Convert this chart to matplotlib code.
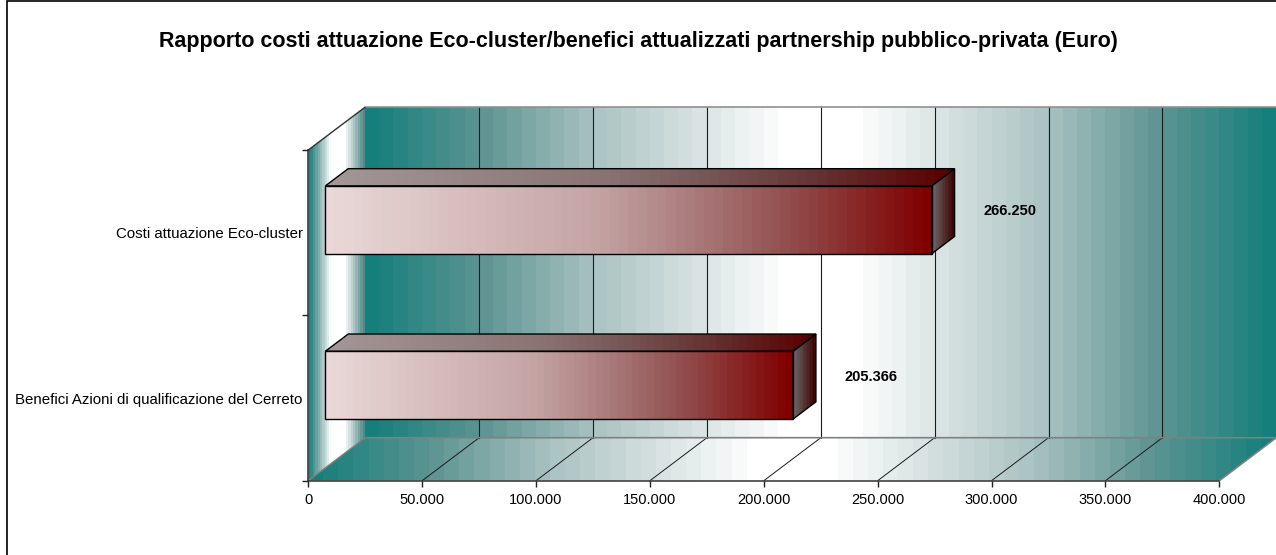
import matplotlib.pyplot as plt
import numpy as np
from matplotlib.colors import LinearSegmentedColormap, to_rgb
from matplotlib.patches import Polygon, Rectangle
from matplotlib.ticker import FuncFormatter

# data (Euro)
categories = ["Benefici Azioni di qualificazione del Cerreto", "Costi attuazione Eco-cluster"]
values = [205366, 266250]
x_ticks = [0, 50000, 100000, 150000, 200000, 250000, 300000, 350000, 400000]
title = "Rapporto costi attuazione Eco-cluster/benefici attualizzati partnership pubblico-privata (Euro)"

plt.rcParams["font.family"] = ["Liberation Sans", "DejaVu Sans"]

W, H = 1276, 555
fig = plt.figure(figsize=(W / 100, H / 100), dpi=100)
# front plane of the 3d box (pixels): x 308..1219, y 150..481
ax = fig.add_axes([308.3 / W, (H - 480.7) / H, 911 / W, 330.7 / H])
XMAX = 400000
NCAT = len(categories)

# depth of the box in data units
DX = XMAX * 57 / 911
DY = NCAT * 43 / 330.7


def proj(x, y, d):
    return (x + d * DX, y + d * DY)


def fmt(v):
    return f"{int(v):,}".replace(",", ".")


def shade(stops, k):
    return [(p, tuple(c * k for c in to_rgb(col))) for p, col in stops]


def gradient(verts, x0, x1, y0, y1, colors, z, steps=64):
    cmap = LinearSegmentedColormap.from_list("g", colors, N=steps)
    poly = Polygon(verts, closed=True, transform=ax.transData)
    im = ax.imshow(np.linspace(0, 1, 512)[None, :], cmap=cmap, extent=(x0, x1, y0, y1),
                   aspect="auto", origin="lower", interpolation="nearest", zorder=z)
    im.set_clip_path(poly)
    im.set_clip_box(fig.bbox)
    return im


def outline(verts, color, lw, z, closed=True):
    ax.add_patch(Polygon(verts, closed=closed, fill=False, edgecolor=color, linewidth=lw,
                         zorder=z, clip_on=False, joinstyle="miter"))


# teal -> white -> teal wall fill, greyish in between
half_stops = [(0.0, "#157f7b"), (0.125, "#5f9593"), (0.25, "#abc3c2"),
              (0.375, "#dde6e6"), (0.46, "#ffffff")]
wall = half_stops + [(1 - p, c) for p, c in reversed(half_stops)]
side_wall = [(0.0, "#157f7b"), (0.2, "#8fb5b3"), (0.4, "#ffffff"), (0.65, "#ffffff"),
             (0.85, "#9fbcbb"), (1.0, "#4f8a88")]

# back wall
bw = [proj(0, 0, 1), proj(XMAX, 0, 1), proj(XMAX, NCAT, 1), proj(0, NCAT, 1)]
gradient(bw, DX, XMAX + DX, DY, NCAT + DY, wall, 0.5)
# left side wall
lw_ = [proj(0, 0, 0), proj(0, 0, 1), proj(0, NCAT, 1), proj(0, NCAT, 0)]
gradient(lw_, 0, DX, 0, NCAT + DY, side_wall, 0.5, steps=24)
# floor
fl = [proj(0, 0, 0), proj(XMAX, 0, 0), proj(XMAX, 0, 1), proj(0, 0, 1)]
gradient(fl, 0, XMAX + DX, 0, DY, wall, 0.5)

# gridlines on the wall and the floor
for t in x_ticks[1:-1]:
    ax.plot(*zip(proj(t, 0, 1), proj(t, NCAT, 1)), color="#1a1a1a", lw=0.8, zorder=0.8,
            clip_on=False)
    ax.plot(*zip(proj(t, 0, 0), proj(t, 0, 1)), color="#1a1a1a", lw=0.7, zorder=0.8,
            clip_on=False)

# wall edges
outline([proj(0, NCAT, 1), proj(XMAX, NCAT, 1)], "#909090", 1.2, 0.9, closed=False)
outline([proj(0, 0, 1), proj(XMAX, 0, 1), proj(XMAX, 0, 0)], "#808080", 1.2, 0.9, closed=False)
outline([proj(0, 0, 0), proj(0, 0, 1)], "#808080", 1.0, 0.9, closed=False)
outline([proj(0, NCAT, 0), proj(0, NCAT, 1)], "#303030", 1.0, 0.9, closed=False)

# bars: pale pink to maroon along the bar, darker on top and on the end face
bar_stops = [(0.0, "#ead8d8"), (0.45, "#c4a3a3"), (0.62, "#a87878"),
             (0.78, "#904a4a"), (1.0, "#800000")]
half = 0.205
d0, d1 = 0.3, 0.7
for i, v in enumerate(values):
    c = i + 0.5
    x0, y0 = proj(0, c - half, d0)
    x1, y1 = proj(v, c + half, d0)
    xb = proj(v, 0, d1)[0]
    yb = proj(0, c + half, d1)[1]
    front = [(x0, y0), (x1, y0), (x1, y1), (x0, y1)]
    top = [proj(0, c + half, d0), proj(v, c + half, d0), proj(v, c + half, d1), proj(0, c + half, d1)]
    side = [proj(v, c - half, d0), proj(v, c + half, d0), proj(v, c + half, d1), proj(v, c - half, d1)]
    gradient(front, x0, x1, y0, y1, bar_stops, 3)
    gradient(top, x0, xb, y1, yb, shade(bar_stops, 0.7), 3)
    gradient(side, x1, xb, y0, yb, shade([(0.0, "#f0e8e8"), (1.0, "#880000")], 0.45), 3, steps=16)
    for f in (front, top, side):
        outline(f, "black", 1.0, 3.5)
    ax.annotate(fmt(v), xy=proj(v, c, 0.5), xytext=(48, 0), textcoords="offset points",
                ha="center", va="center", fontsize=10.5, fontweight="bold", zorder=4)

ax.set_xlim(0, XMAX)
ax.set_ylim(0, NCAT)
ax.patch.set_visible(False)
for s in ("top", "right"):
    ax.spines[s].set_visible(False)
for s in ("bottom", "left"):
    ax.spines[s].set_color("#404040")
    ax.spines[s].set_linewidth(1.2)
    ax.spines[s].set_zorder(1)

ax.set_xticks(x_ticks)
ax.xaxis.set_major_formatter(FuncFormatter(lambda v, p: fmt(v)))
ax.tick_params(axis="x", direction="out", length=4, width=1, color="#202020",
               labelsize=10.5, pad=5)
ax.set_yticks(range(NCAT + 1))
ax.set_yticklabels([])
ax.set_yticks([i + 0.5 for i in range(NCAT)], minor=True)
ax.set_yticklabels(categories, minor=True)
ax.tick_params(axis="y", which="major", direction="out", length=4, width=1, color="#202020")
ax.tick_params(axis="y", which="minor", length=0, labelsize=10.8, pad=4)

fig.text(0.5, 1 - 42 / H, title, ha="center", va="center", fontsize=15.5, fontweight="bold")

# chart area border
fig.add_artist(Rectangle((7 / W, -0.1), 2, 1.1 - 1.5 / H, transform=fig.transFigure,
                         fill=False, edgecolor="black", linewidth=1.2))

fig.savefig("out.png", dpi=100)
